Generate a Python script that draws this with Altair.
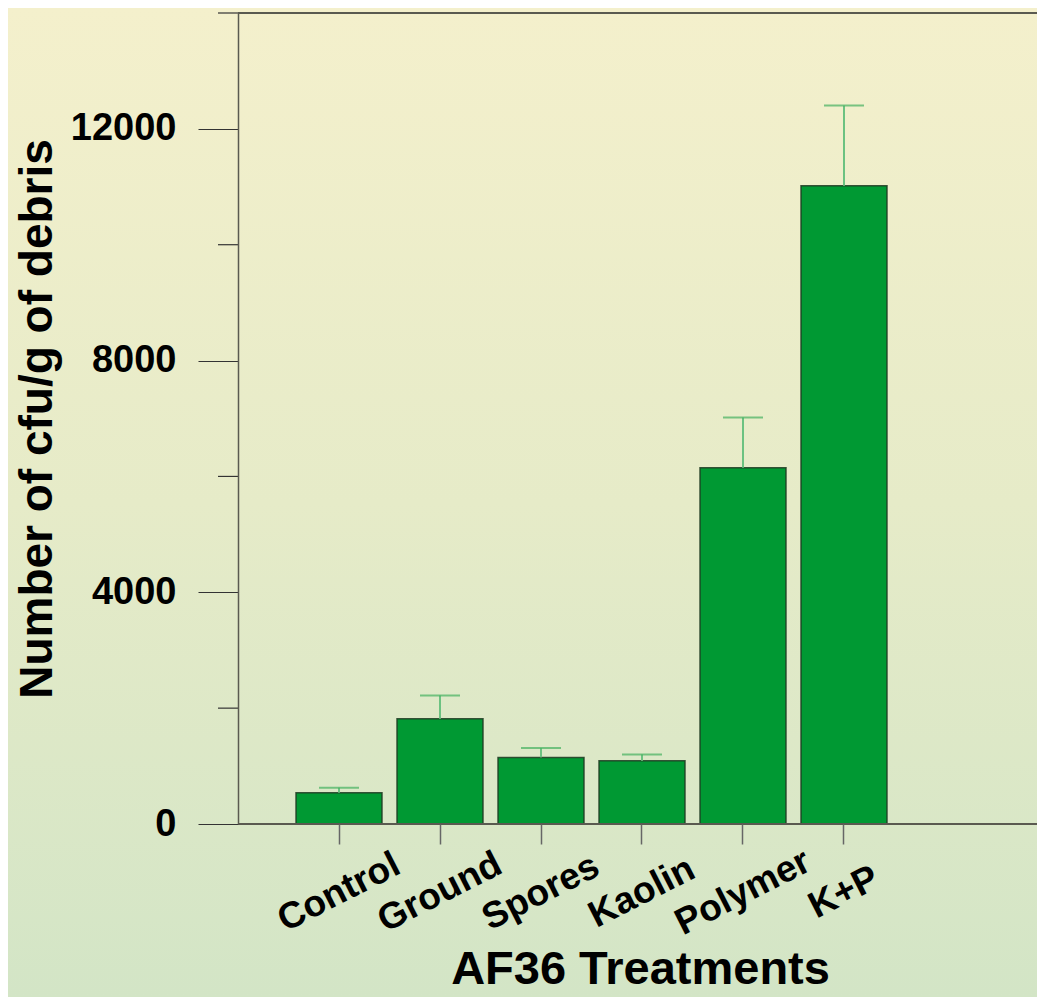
import altair as alt
import pandas as pd

categories = ["Control", "Ground", "Spores", "Kaolin", "Polymer", "K+P"]
means = [540, 1816, 1150, 1091, 6150, 11017]
upper = [626, 2219, 1310, 1201, 7017, 12402]
major_ticks = [0, 4000, 8000, 12000]
minor_ticks = [2000, 6000, 10000, 14000]

FONT = "Liberation Sans"
W, H = 799, 811

df = pd.DataFrame({"cat": categories, "mean": means, "upper": upper})
minor_df = pd.DataFrame({"v": minor_ticks})
frame_df = pd.DataFrame({"v": [0, 14000]})
bg_df = pd.DataFrame({"a": [0]})

xscale = alt.Scale(domain=categories, range=[58, 649], paddingInner=0.1485,
                   paddingOuter=0, round=False)
yscale = alt.Scale(domain=[0, 14000], nice=False, zero=True)

bg = alt.Chart(bg_df).mark_rect(
    fill=alt.LinearGradient(
        gradient="linear",
        stops=[alt.GradientStop(offset=0, color="#F4F0CC"),
               alt.GradientStop(offset=0.5, color="#E6EBC8"),
               alt.GradientStop(offset=1, color="#D3E5C6")],
        x1=0, x2=0, y1=0, y2=1),
    strokeWidth=0,
).encode(x=alt.value(-230), x2=alt.value(W + 2), y=alt.value(-5), y2=alt.value(984))

bars = alt.Chart(df).mark_bar(
    fill="#009933", stroke="#1e3a22", strokeWidth=1.5, strokeOpacity=0.85
).encode(
    x=alt.X("cat:N", scale=xscale, sort=categories,
            axis=alt.Axis(title="AF36 Treatments", labelAngle=-27, labelAlign="center",
                          labelBaseline="middle", labelPadding=48, tickSize=20,
                          labelFont=FONT, labelFontSize=37, labelFontWeight="bold",
                          labelColor="#000000", labelOverlap=False, labelBound=False,
                          labelFlush=False, domain=False, zindex=2,
                          grid=False, tickExtra=False, tickBand="center",
                          tickColor="#666666", tickWidth=1.5,
                          titleFont=FONT, titleFontSize=47, titleFontWeight="bold",
                          titleColor="#000000", titleAlign="center",
                          titleBaseline="alphabetic", titleX=402, titleY=159)),
    y=alt.Y("mean:Q", scale=yscale,
            axis=alt.Axis(title="Number of cfu/g of debris", values=major_ticks,
                          tickSize=40, labelPadding=22, grid=False, zindex=2,
                          labelFont=FONT, labelFontSize=38, labelFontWeight="bold",
                          labelColor="#000000", format="d",
                          tickColor="#333333", tickWidth=1.2,
                          domainColor="#5a5a50", domainWidth=1.5,
                          titleFont=FONT, titleFontSize=46, titleFontWeight="bold",
                          titleColor="#000000", titleAngle=270, titleAlign="center",
                          titleBaseline="middle", titleX=-201, titleY=H / 2)),
)

err_line = alt.Chart(df).mark_rule(color="#6cc281", strokeWidth=2).encode(
    x=alt.X("cat:N", scale=xscale, sort=categories),
    y=alt.Y("mean:Q", scale=yscale),
    y2="upper:Q",
)

err_cap = alt.Chart(df).mark_tick(color="#45b060", thickness=2, size=40).encode(
    x=alt.X("cat:N", scale=xscale, sort=categories),
    y=alt.Y("upper:Q", scale=yscale),
)

minor = alt.Chart(minor_df).mark_rule(color="#333333", strokeWidth=1.2).encode(
    y=alt.Y("v:Q", scale=yscale), x=alt.value(-20), x2=alt.value(0)
)

frame = alt.Chart(frame_df).mark_rule(color="#5a5a50", strokeWidth=1.8).encode(
    y=alt.Y("v:Q", scale=yscale), x=alt.value(0), x2=alt.value(W)
)

chart = alt.layer(bg, bars, err_line, err_cap, minor, frame).properties(
    width=W, height=H,
    autosize=alt.AutoSizeParams(type="none"),
    padding={"left": 230, "top": 5, "right": 0, "bottom": 173},
    background="#E8ECCA",
).configure_view(strokeWidth=0, stroke="transparent")

chart.save("out.html", embed_options={"renderer": "svg", "actions": False})
